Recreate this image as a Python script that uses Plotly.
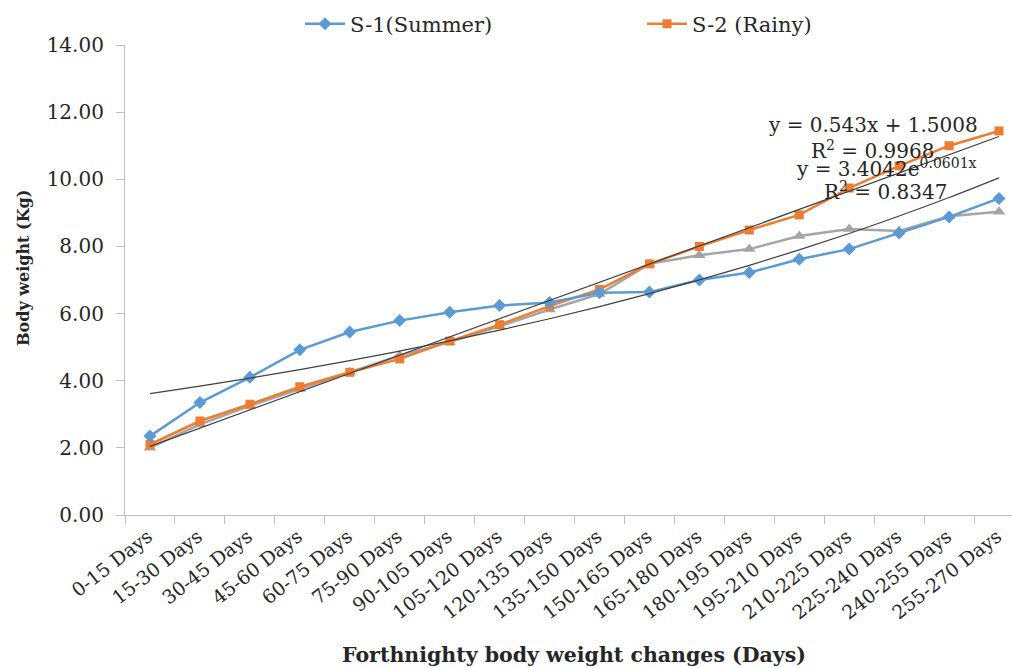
import numpy as np
import plotly.graph_objects as go

categories = ["0-15 Days", "15-30 Days", "30-45 Days", "45-60 Days", "60-75 Days",
              "75-90 Days", "90-105 Days", "105-120 Days", "120-135 Days", "135-150 Days",
              "150-165 Days", "165-180 Days", "180-195 Days", "195-210 Days",
              "210-225 Days", "225-240 Days", "240-255 Days", "255-270 Days"]
s1_summer = [2.35, 3.35, 4.10, 4.92, 5.45, 5.79, 6.04, 6.24, 6.33, 6.62, 6.64, 7.00,
             7.22, 7.62, 7.92, 8.40, 8.88, 9.43]
s2_rainy = [2.10, 2.80, 3.30, 3.82, 4.25, 4.65, 5.18, 5.67, 6.22, 6.72, 7.48, 8.00,
            8.49, 8.94, 9.74, 10.40, 11.00, 11.44]
s3_other = [2.00, 2.70, 3.25, 3.75, 4.25, 4.75, 5.15, 5.62, 6.12, 6.58, 7.48, 7.74,
            7.92, 8.31, 8.52, 8.46, 8.90, 9.03]
yticks = [0, 2, 4, 6, 8, 10, 12, 14]

# trendline coefficients as printed on the chart
lin_coef = [0.543, 1.5008]      # y = a*x + b  (S-2)
exp_coef = [3.4042, 0.0601]     # y = a*e^(b*x) (S-1)

xn = np.arange(1, len(categories) + 1)
lin_y = lin_coef[0] * xn + lin_coef[1]
exp_y = exp_coef[0] * np.exp(exp_coef[1] * xn)

FONT = "DejaVu Serif"
TXT = "#262626"
W, H = 1012, 668
L, T, B = 125, 45, 153
PW = W - L
PH = H - T - B


def px2paper(px, py):
    return (px - L) / PW, (H - B - py) / PH


fig = go.Figure()
fig.add_trace(go.Scatter(x=categories, y=s3_other, mode="lines+markers", name="S-3",
                         showlegend=False,
                         line=dict(color="#A5A5A5", width=2.5),
                         marker=dict(symbol="triangle-up", size=11, color="#A5A5A5")))
fig.add_trace(go.Scatter(x=categories, y=s2_rainy, mode="lines+markers", name="S-2 (Rainy)",
                         legend="legend2",
                         line=dict(color="#ED7D31", width=2.5),
                         marker=dict(symbol="square", size=9, color="#ED7D31")))
fig.add_trace(go.Scatter(x=categories, y=s1_summer, mode="lines+markers", name="S-1(Summer)",
                         legend="legend",
                         line=dict(color="#5B9BD5", width=2.5),
                         marker=dict(symbol="diamond", size=10, color="#5B9BD5")))
fig.add_trace(go.Scatter(x=categories, y=lin_y, mode="lines", showlegend=False,
                         line=dict(color="#404040", width=1.2)))
fig.add_trace(go.Scatter(x=categories, y=exp_y, mode="lines", showlegend=False,
                         line=dict(color="#404040", width=1.2, shape="spline")))

ann_font = dict(family=FONT, size=20, color=TXT)
for txt, px, py in [("y = 0.543x + 1.5008", 873, 125),
                    ("R<sup>2</sup> = 0.9968", 872, 150),
                    ("y = 3.4042e<sup>0.0601x</sup>", 886, 168),
                    ("R<sup>2</sup> = 0.8347", 885, 191)]:
    ax, ay = px2paper(px, py)
    fig.add_annotation(x=ax, y=ay, xref="paper", yref="paper",
                       text=txt, showarrow=False, font=ann_font,
                       xanchor="center", yanchor="middle")

# axis titles
ax, ay = px2paper(574, 655)
fig.add_annotation(x=ax, y=ay, xref="paper", yref="paper",
                   text="<b>Forthnighty body weight changes (Days)</b>", showarrow=False,
                   font=dict(family=FONT, size=20.5, color=TXT),
                   xanchor="center", yanchor="middle")
ax, ay = px2paper(23, 268)
fig.add_annotation(x=ax, y=ay, xref="paper", yref="paper",
                   text="<b>Body weight (Kg)</b>", showarrow=False, textangle=-90,
                   font=dict(family=FONT, size=16, color=TXT),
                   xanchor="center", yanchor="middle")

leg_common = dict(orientation="h", xref="container", yref="container",
                  xanchor="left", yanchor="middle", bgcolor="rgba(0,0,0,0)",
                  font=dict(family=FONT, size=21, color=TXT), itemwidth=40)
fig.update_layout(
    width=W, height=H,
    margin=dict(l=L, r=0, t=T, b=B),
    paper_bgcolor="white", plot_bgcolor="white",
    font=dict(family=FONT, color=TXT),
    legend=dict(x=300 / W, y=1 - 24 / H, **leg_common),
    legend2=dict(x=642 / W, y=1 - 24 / H, **leg_common),
    xaxis=dict(type="category", range=[-0.5, 17.26], showgrid=False,
               showline=True, linecolor="#BFBFBF", linewidth=1.2,
               ticks="outside", ticklen=8, tickcolor="#BFBFBF", tickson="boundaries",
               tickangle=-38, tickfont=dict(family=FONT, size=19, color=TXT),
               ticklabelstandoff=2, ticklabelshift=-2,
               automargin=False),
    yaxis=dict(range=[0, 14], tickvals=yticks, ticktext=[f"{v:.2f}" for v in yticks],
               showgrid=False, showline=True, linecolor="#BFBFBF", linewidth=1.2,
               ticks="outside", ticklen=8, tickcolor="#BFBFBF", zeroline=False,
               ticklabelstandoff=8, automargin=False,
               tickfont=dict(family=FONT, size=20, color=TXT)),
)

fig.write_html("out.html", config={"displayModeBar": False},
               post_script="document.body.style.margin='0';")
